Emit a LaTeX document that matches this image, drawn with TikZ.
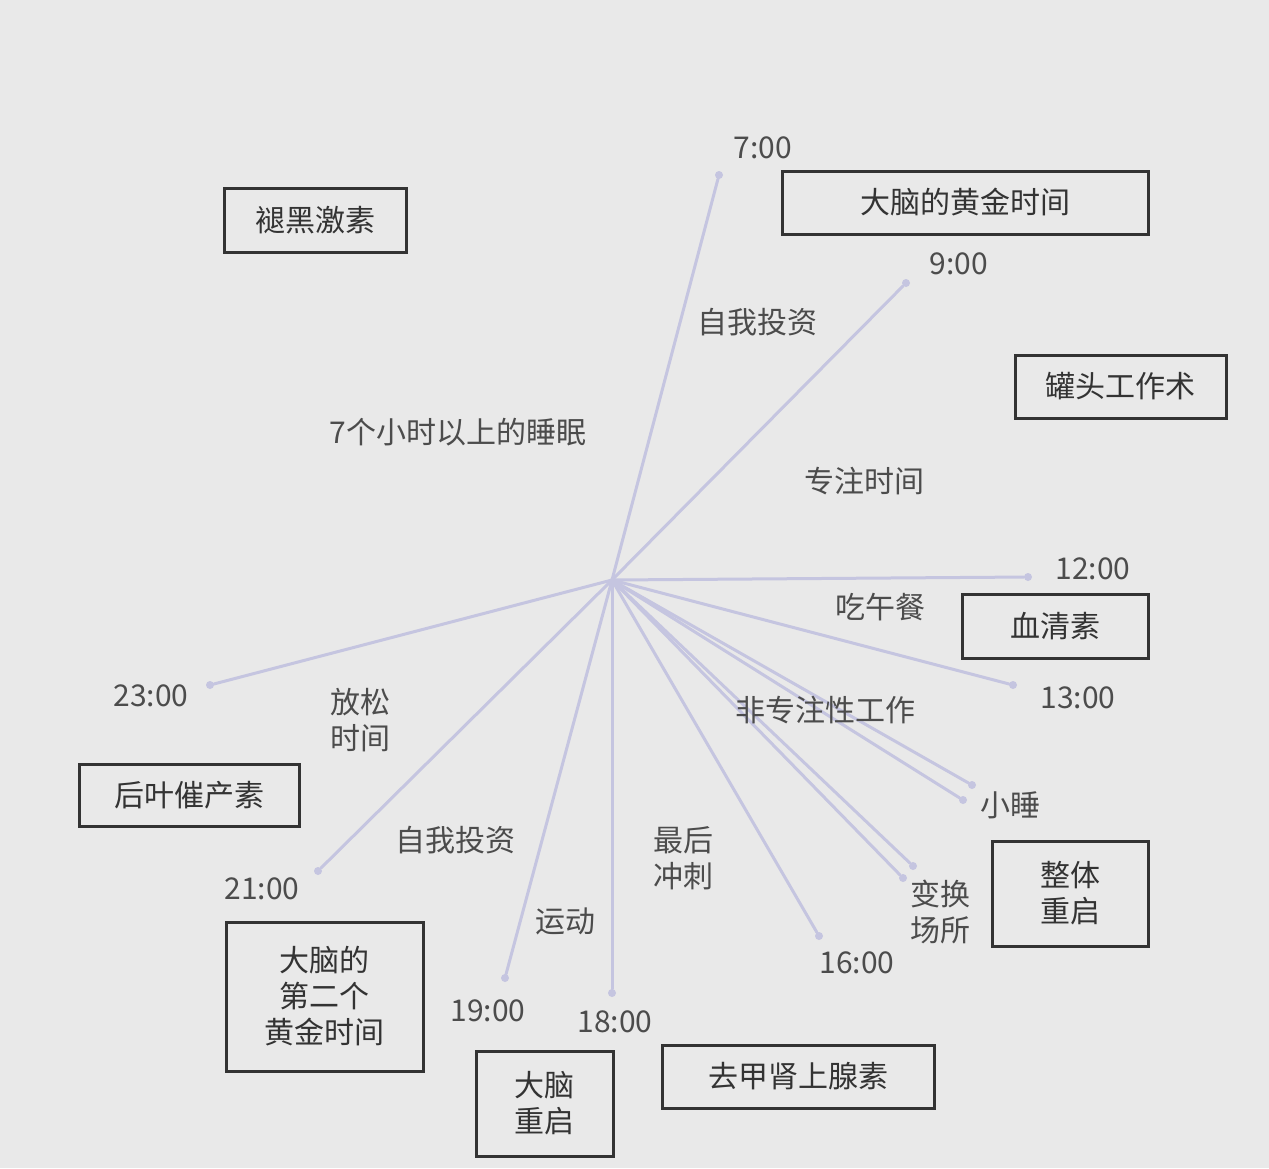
\documentclass[tikz,border=0pt]{standalone}
\usepackage{fontspec}
\setmainfont{Noto Sans CJK SC}
\begin{document}
\begin{tikzpicture}[x=1pt,y=-1pt,
  lbl/.style={text=black!70,font=\fontsize{30}{36}\selectfont,align=center,inner sep=0pt},
  bx/.style={lbl,text=black!80,draw=black!80,line width=3pt,inner sep=0pt},
  ray/.style={draw=blue!30!gray!35,line width=3pt,line cap=round},
  dot/.style={circle,fill=blue!30!gray!35,inner sep=0pt,minimum size=8pt}]
\fill[gray!17] (0,0) rectangle (1269,1168);
\useasboundingbox (0,0) rectangle (1269,1168);
\coordinate (c) at (612,580);
\foreach \n/\x/\y in {a/719/175,b/906/283,d/1028/577,e/1013/685,f/972/785,g/963/800,h/913/866,i/903/878,j/819/936,k/612/993,l/505/978,m/318/871,n/210/685}{
  \node[dot] (\n) at (\x,\y) {};
  \draw[ray] (c) -- (\n);
}
\node[lbl] (t7) at (763,148) {7:00};
\node[lbl] (t9) at (959,264) {9:00};
\node[lbl] (t12) at (1093,569) {12:00};
\node[lbl] (t13) at (1078,698) {13:00};
\node[lbl] (ts) at (1010,805) {小睡};
\node[lbl] (tb) at (940,912) {变换\\场所};
\node[lbl] (t16) at (857,963) {16:00};
\node[lbl] (t18) at (615,1022) {18:00};
\node[lbl] (t19) at (488,1011) {19:00};
\node[lbl] (t21) at (262,889) {21:00};
\node[lbl] (t23) at (151,696) {23:00};
\node[lbl] (f1) at (757,322) {自我投资};
\node[lbl] (f2) at (458,432) {7个小时以上的睡眠};
\node[lbl] (f3) at (864,481) {专注时间};
\node[lbl] (f4) at (880,607) {吃午餐};
\node[lbl] (f5) at (825,710) {非专注性工作};
\node[lbl] (f6) at (360,720) {放松\\时间};
\node[lbl] (f7) at (455,840) {自我投资};
\node[lbl] (f8) at (683,858) {最后\\冲刺};
\node[lbl] (f9) at (565,921) {运动};
\node[bx,minimum width=182pt,minimum height=64pt] (b1) at (315,220) {褪黑激素};
\node[bx,minimum width=366pt,minimum height=63pt] (b2) at (965,202.5) {大脑的黄金时间};
\node[bx,minimum width=211pt,minimum height=63pt] (b3) at (1120.5,386.5) {罐头工作术};
\node[bx,minimum width=186pt,minimum height=64pt] (b4) at (1055,626) {血清素};
\node[bx,minimum width=220pt,minimum height=62pt] (b5) at (189,795) {后叶催产素};
\node[bx,minimum width=156pt,minimum height=105pt] (b6) at (1070,893.5) {整体\\重启};
\node[bx,minimum width=197pt,minimum height=149pt] (b7) at (324.5,996.5) {大脑的\\第二个\\黄金时间};
\node[bx,minimum width=137pt,minimum height=105pt] (b8) at (544.5,1103.5) {大脑\\重启};
\node[bx,minimum width=272pt,minimum height=63pt] (b9) at (798,1076.5) {去甲肾上腺素};
\end{tikzpicture}
\end{document}
